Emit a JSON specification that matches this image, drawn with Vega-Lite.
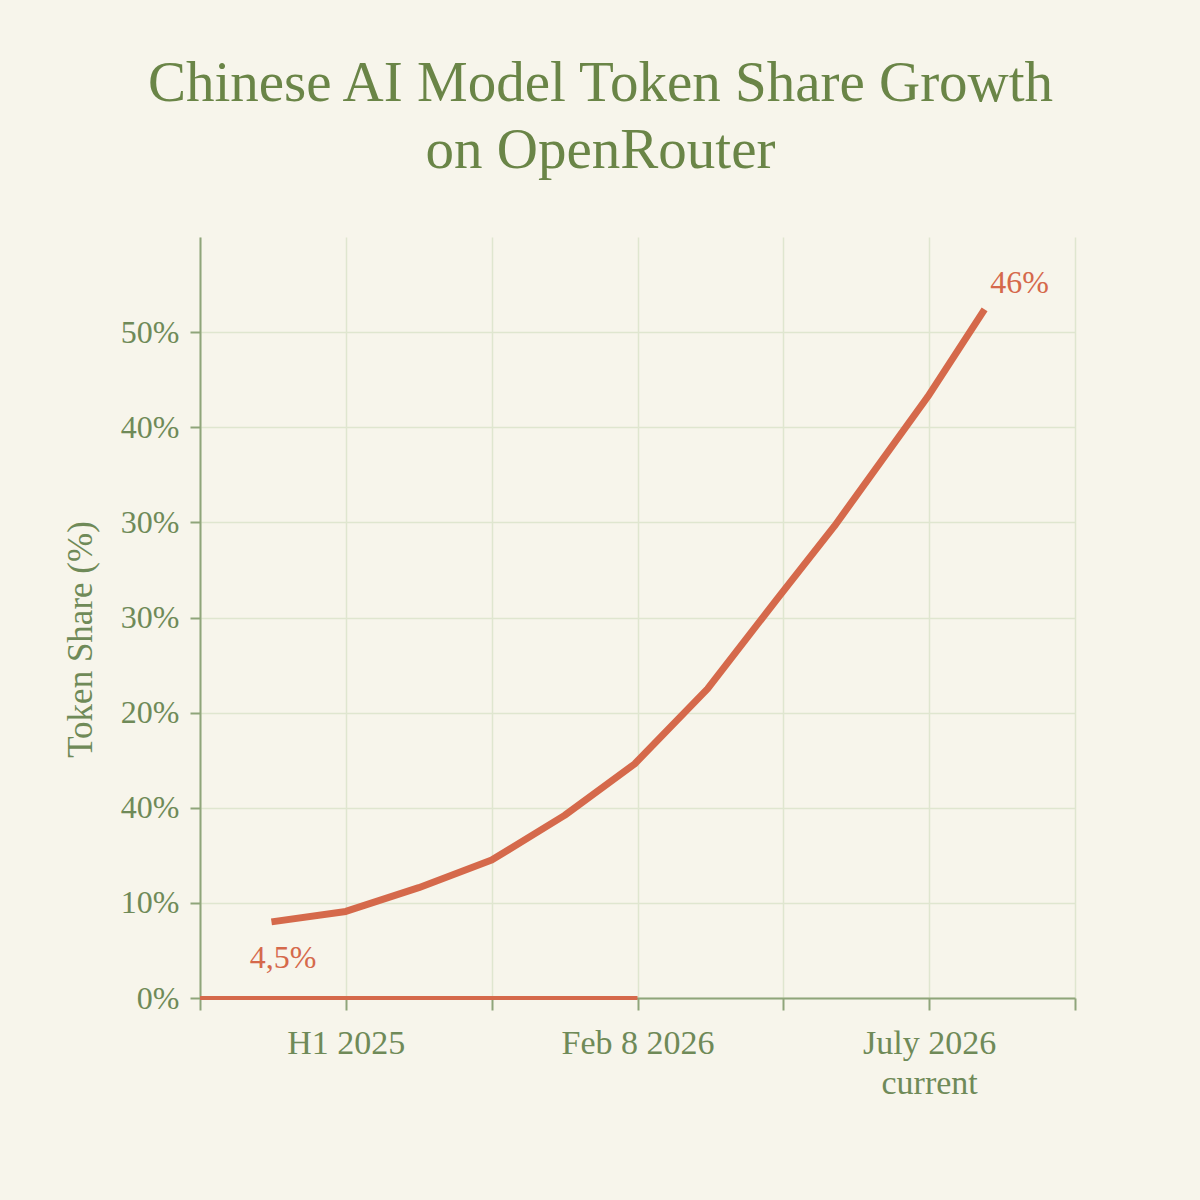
{
  "$schema": "https://vega.github.io/schema/vega-lite/v6.json",
  "width": 875,
  "height": 761,
  "autosize": {"type": "none"},
  "padding": {"left": 200, "top": 237, "right": 125, "bottom": 202},
  "background": "#f7f5eb",
  "config": {
    "view": {"stroke": null},
    "font": "Liberation Serif"
  },
  "title": {
    "text": ["Chinese AI Model Token Share Growth", "on OpenRouter"],
    "font": "Liberation Serif",
    "fontSize": 57,
    "fontWeight": "normal",
    "color": "#6a8547",
    "lineHeight": 67,
    "anchor": "middle",
    "dx": -37,
    "offset": 57
  },
  "datasets": {
    "main": [
      {"x": 0.49, "share": 8.0},
      {"x": 1.0, "share": 9.1},
      {"x": 1.5, "share": 11.6},
      {"x": 2.0, "share": 14.5},
      {"x": 2.5, "share": 19.2},
      {"x": 2.98, "share": 24.6},
      {"x": 3.48, "share": 32.5},
      {"x": 3.97, "share": 42.2},
      {"x": 4.35, "share": 49.6},
      {"x": 4.99, "share": 63.2},
      {"x": 5.38, "share": 72.4}
    ],
    "base": [
      {"x": 0, "share": 0},
      {"x": 3, "share": 0}
    ],
    "notes": [
      {"x": 0.57, "share": 2.4, "label": "4,5%"},
      {"x": 5.62, "share": 73.4, "label": "46%"}
    ]
  },
  "layer": [
    {
      "data": {"name": "main"},
      "mark": {"type": "line", "color": "#d5694b", "strokeWidth": 7, "interpolate": "linear", "strokeCap": "butt", "strokeJoin": "round"},
      "encoding": {
        "x": {
          "field": "x", "type": "quantitative",
          "scale": {"domain": [0, 6], "nice": false, "zero": false},
          "axis": {
            "title": null,
            "values": [0, 1, 2, 3, 4, 5, 6],
            "labelExpr": "datum.value == 1 ? 'H1 2025' : datum.value == 3 ? 'Feb 8 2026' : datum.value == 5 ? ['July 2026', 'current'] : ''",
            "labelFont": "Liberation Serif",
            "labelFontSize": 34,
            "labelColor": "#6f8a58",
            "labelPadding": 16,
            "labelLineHeight": 40,
            "domainColor": "#8fa57a",
            "domainWidth": 2,
            "tickColor": "#8fa57a",
            "tickWidth": 2,
            "tickSize": 12,
            "gridColor": "#dfe6cf",
            "gridWidth": 1.5
          }
        },
        "y": {
          "field": "share", "type": "quantitative",
          "scale": {"domain": [0, 80], "nice": false},
          "axis": {
            "title": "Token Share (%)",
            "titleFont": "Liberation Serif",
            "titleFontSize": 35,
            "titleFontWeight": "normal",
            "titleColor": "#6f8a58",
            "titlePadding": 22,
            "titleY": 402,
            "values": [0, 10, 20, 30, 40, 50, 60, 70],
            "labelExpr": "datum.value == 0 ? '0%' : datum.value == 10 ? '10%' : datum.value == 20 ? '40%' : datum.value == 30 ? '20%' : datum.value == 40 ? '30%' : datum.value == 50 ? '30%' : datum.value == 60 ? '40%' : '50%'",
            "labelFont": "Liberation Serif",
            "labelFontSize": 32,
            "labelColor": "#6f8a58",
            "labelPadding": 11,
            "domainColor": "#8fa57a",
            "domainWidth": 2,
            "tickColor": "#8fa57a",
            "tickWidth": 2,
            "tickSize": 10,
            "gridColor": "#dfe6cf",
            "gridWidth": 1.5
          }
        }
      }
    },
    {
      "data": {"name": "base"},
      "mark": {"type": "line", "color": "#d5694b", "strokeWidth": 4},
      "encoding": {
        "x": {"field": "x", "type": "quantitative"},
        "y": {"field": "share", "type": "quantitative"}
      }
    },
    {
      "data": {"name": "notes"},
      "mark": {"type": "text", "color": "#d5694b", "fontSize": 32, "font": "Liberation Serif", "align": "center", "baseline": "bottom"},
      "encoding": {
        "x": {"field": "x", "type": "quantitative"},
        "y": {"field": "share", "type": "quantitative"},
        "text": {"field": "label"}
      }
    }
  ]
}
